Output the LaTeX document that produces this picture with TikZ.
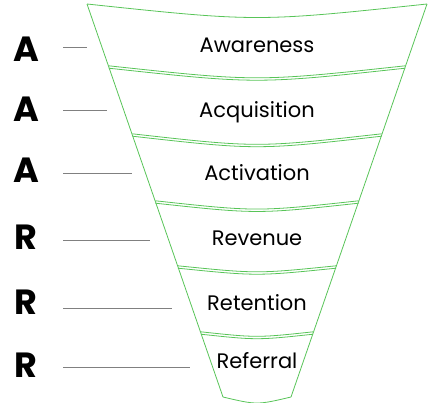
\documentclass[tikz,border=0pt]{standalone}
\usepackage{fontspec}
\setmainfont{Poppins}
\definecolor{funnelgreen}{RGB}{88,196,88}
\definecolor{tickgray}{RGB}{128,128,128}
\tikzset{
  edge/.style={draw=funnelgreen, line width=0.8pt},
  tick/.style={draw=tickgray, line width=0.8pt},
  stage/.style={anchor=base, font=\fontsize{21}{21}\selectfont},
  letter/.style={anchor=base, font=\fontsize{35}{35}\selectfont\bfseries}
}
\begin{document}
\begin{tikzpicture}[x=1pt,y=-1pt]
  \useasboundingbox (0,0) rectangle (430,402);
  \coordinate (TL) at (87,4);
  \coordinate (TR) at (427,4);
  \coordinate (BL) at (223,397);
  \coordinate (BR) at (291,397);
  % funnel outline
  \draw[edge] (TL) -- (BL);
  \draw[edge] (TR) -- (BR);
  \draw[edge] (TL) .. controls (257,22) .. (TR);
  \draw[edge] (BL) .. controls (257,405) .. (BR);
  % double dividers between the stages
  \foreach \y/\d in {67/8, 135/7, 202/5.5, 267/4, 333/3} {
    \pgfmathsetmacro\xl{87+0.346*(\y-4)}
    \pgfmathsetmacro\xr{514-\xl}
    \draw[edge] (\xl,\y-1.2) .. controls (257,\y-1.2+2*\d) .. (\xr,\y-1.2);
    \draw[edge] (\xl,\y+1.2) .. controls (257,\y+1.2+2*\d) .. (\xr,\y+1.2);
  }
  % stages
  \node[stage] (aware) at (257,52) {Awareness};
  \node[stage] (acqui) at (257,117) {Acquisition};
  \node[stage] (activ) at (257,180) {Activation};
  \node[stage] (reven) at (257,245) {Revenue};
  \node[stage] (reten) at (257,310) {Retention};
  \node[stage] (refer) at (257,368) {Referral};
  % letters
  \node[letter] (l1) at (26,61) {A};
  \node[letter] (l2) at (26,121) {A};
  \node[letter] (l3) at (26,182) {A};
  \node[letter] (l4) at (26,249) {R};
  \node[letter] (l5) at (26,314) {R};
  \node[letter] (l6) at (26,377) {R};
  % ticks
  \foreach \n/\y/\x in {1/47/87, 2/110/107, 3/173/132, 4/240/150, 5/308/172, 6/367/190} {
    \coordinate (s\n) at (63,\y);
    \coordinate (e\n) at (\x,\y);
    \draw[tick] (s\n) -- (e\n);
  }
\end{tikzpicture}
\end{document}
